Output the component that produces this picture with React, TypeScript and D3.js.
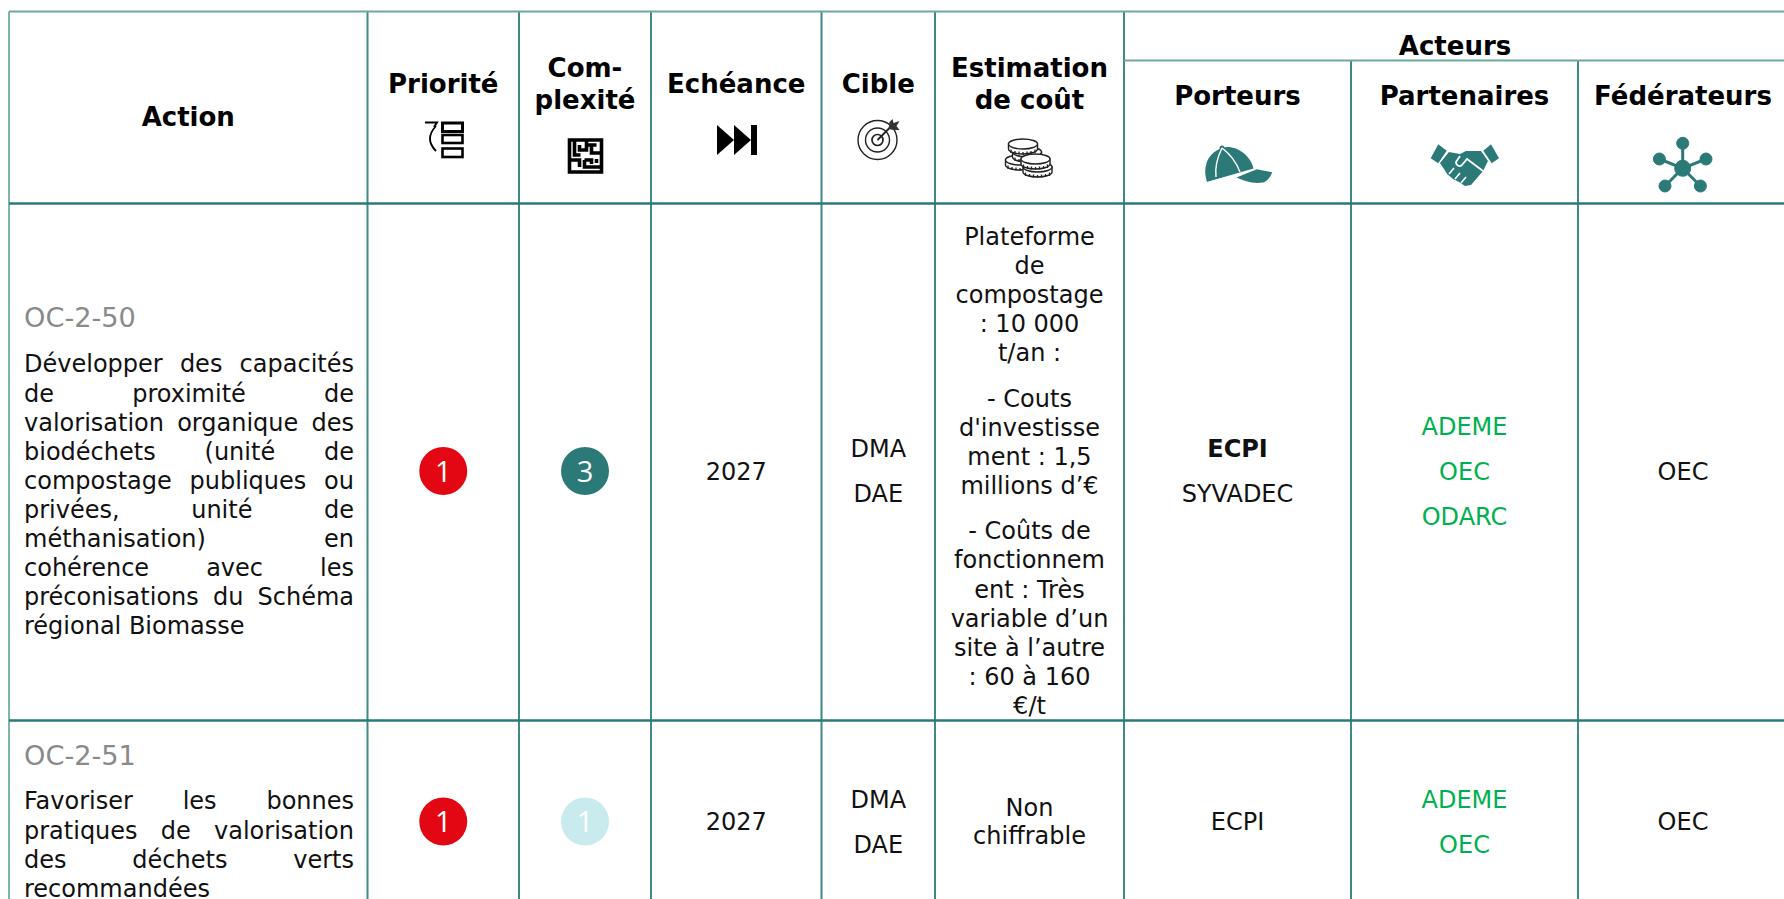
import React from 'react';
import * as d3 from 'd3';

// table content
const columnKeys = ['action', 'priorite', 'complexite', 'echeance', 'cible', 'cout', 'porteurs', 'partenaires', 'federateurs'];
const headerLabels = [['Action'], ['Priorité'], ['Com-', 'plexité'], ['Echéance'], ['Cible'], ['Estimation', 'de coût'], ['Porteurs'], ['Partenaires'], ['Fédérateurs']];
const actionCodes = ['OC-2-50', 'OC-2-51'];
const actionLines = [
  ['Développer des capacités', 'de proximité de', 'valorisation organique des', 'biodéchets (unité de', 'compostage publiques ou', 'privées, unité de', 'méthanisation) en', 'cohérence avec les', 'préconisations du Schéma', 'régional Biomasse'],
  ['Favoriser les bonnes', 'pratiques de valorisation', 'des déchets verts', 'recommandées'],
];
const priorities = [1, 1];
const complexities = [3, 1];
const deadlines = ['2027', '2027'];
const targets = [['DMA', 'DAE'], ['DMA', 'DAE']];
const costs = [
  [['Plateforme', 'de', 'compostage', ': 10 000', 't/an :'], ['- Couts', "d'investisse", 'ment : 1,5', 'millions d’€'], ['- Coûts de', 'fonctionnem', 'ent : Très', 'variable d’un', 'site à l’autre', ': 60 à 160', '€/t']],
  [['Non', 'chiffrable']],
];
const carriers = [[{ t: 'ECPI', b: true }, { t: 'SYVADEC', b: false }], [{ t: 'ECPI', b: false }]];
const partners = [['ADEME', 'OEC', 'ODARC'], ['ADEME', 'OEC']];
const federators = [['OEC'], ['OEC']];

// layout
const W = 1784;
const H = 899;
const edges = [9, 367.5, 519, 651, 821.5, 935, 1124, 1351, 1578, 1788];
const top = 11.5;
const subTop = 60.5;
const headBottom = 203.5;
const row1Bottom = 720.5;
const rowMid = [471, 821.5];
const FONT = '"DejaVu Sans", Verdana, sans-serif';
const BODY = 24;
const ACTION = 24;
const HEAD = 26;
const PITCH = 29.1;
const LINE = '#3f8a85';
const DARK = '#2c7a77';

const xCenter = d3.scaleOrdinal<string, number>(columnKeys, columnKeys.map((_, i) => (edges[i] + edges[i + 1]) / 2));
const levelColor = d3.scaleOrdinal<string, string>(['p1', 'c3', 'c1'], ['#e30613', '#2c7a77', '#c9ebee']);

let ctx: CanvasRenderingContext2D | null = null;
function measure(s: string, size: number) {
  if (!ctx) ctx = document.createElement('canvas').getContext('2d');
  ctx!.font = `${size}px "DejaVu Sans"`;
  return ctx!.measureText(s).width;
}

function Centered({ x, y, lines, pitch = PITCH, ...rest }: any) {
  const y0 = y - ((lines.length - 1) * pitch) / 2;
  return (
    <>
      {lines.map((l: string, i: number) => (
        <text key={i} x={x} y={y0 + i * pitch + 8.6} textAnchor="middle" fontSize={BODY} fill="#111" {...rest}>{l}</text>
      ))}
    </>
  );
}

function Justified({ x, y, width, lines }: any) {
  return (
    <>
      {lines.map((l: string, i: number) => {
        const gaps = l.split(' ').length - 1;
        const last = i === lines.length - 1;
        const ws = !last && gaps > 0 ? (width - measure(l, ACTION)) / gaps : 0;
        return <text key={i} x={x} y={y + i * PITCH + 8.4} fontSize={ACTION} fill="#111" wordSpacing={ws}>{l}</text>;
      })}
    </>
  );
}

function Badge({ x, y, color, value }: any) {
  return (
    <g>
      <circle cx={x} cy={y} r={24} fill={color} />
      <text x={x} y={y + 10.5} textAnchor="middle" fontSize={29} fontFamily='"Open Sans"' fontWeight={500} fill="#fff">{value}</text>
    </g>
  );
}

function PriorityIcon({ x, y }: any) {
  const arrow = d3.path();
  arrow.moveTo(-8, 12);
  arrow.quadraticCurveTo(-20, 0, -8, -13);
  return (
    <g transform={`translate(${x},${y})`} fill="none" stroke="#000" strokeWidth={2.6}>
      <rect x={-1.5} y={-16} width={20} height={8.5} strokeWidth={3} />
      <rect x={-1.5} y={-4} width={20} height={8} />
      <rect x={-1.5} y={9.5} width={20} height={8.5} />
      <path d={arrow.toString()} strokeWidth={1.8} />
      <path d="M-19,-16.5 H-7 L-10,-12" strokeWidth={2} />
    </g>
  );
}

function MazeIcon({ x, y }: any) {
  const d = 'M-16,-16 H16 V16 H-16 Z M-11,-16 V-1 H-5 M-6,-11 V-6 H1 V-16 M6,-11 H11 M1,-11 H6 V-3 H16 M-16,4 H-6 V11 M-1,4 H6 V8 M-1,4 V11 H16 M11,3 V7';
  return <path transform={`translate(${x},${y})`} d={d} fill="none" stroke="#000" strokeWidth={3.6} />;
}

function SkipIcon({ x, y }: any) {
  return (
    <g transform={`translate(${x},${y})`} fill="#000">
      <path d="M-20,-15 L-3,0 L-20,15 Z" />
      <path d="M-3,-15 L14,0 L-3,15 Z" />
      <rect x={14} y={-15} width={6} height={30} />
    </g>
  );
}

function TargetIcon({ x, y }: any) {
  return (
    <g transform={`translate(${x},${y})`} fill="none" stroke="#222" strokeWidth={1.4}>
      <circle r={19.5} />
      <circle r={12} />
      <circle r={5.5} strokeWidth={1.7} />
      <path d="M0,0 L13,-13" strokeWidth={1.8} />
      <path d="M11,-11 L12,-18 L15,-21 L16,-17 L22,-19 L19,-14 L22,-10 L16,-10 Z" fill="#333" stroke="none" />
    </g>
  );
}

function Coin({ x, y }: any) {
  return (
    <g transform={`translate(${x},${y})`} fill="#fff" stroke="#222" strokeWidth={1.4}>
      <path d="M-14.5,0 V5 A14.5,5 0 0 0 14.5,5 V0 Z" />
      <path d="M-12,5.5 V9 M-8,7 V10 M-4,7.5 V10.5 M0,8 V11 M4,7.5 V10.5 M8,7 V10 M12,5.5 V9" strokeWidth={1.3} />
      <ellipse rx={14.5} ry={5} />
    </g>
  );
}

function CoinsIcon({ x, y }: any) {
  // drawn back to front
  const stack = [[-10, 2], [-3, -6], [-7, -14], [7.5, 9], [5.5, 1]];
  return (
    <g transform={`translate(${x},${y})`}>
      {stack.map(([a, b], i) => <Coin key={i} x={a} y={b} />)}
    </g>
  );
}

function CapIcon({ x, y }: any) {
  return (
    <g transform={`translate(${x},${y})`} fill={DARK}>
      <path d="M-31,16 C-35,4 -33,-12 -16,-18 C-4,-22 12,-12 15.5,2.5 Z" />
      <path d="M-1.5,11.5 L18.7,3.3 L34.3,6.3 C32,12 28,16 25,16.5 C15,18 6,15 -1.5,11.5 Z" />
      <circle cx={-16} cy={-18} r={2.5} />
      <path d="M-16,-18 C-21,-8 -23,2 -22,11 M-16,-18 C-8,-12 -1,-2 2,6" fill="none" stroke="#fff" strokeWidth={1.4} />
      <path d="M-31,16.5 L17,3.5" fill="none" stroke="#fff" strokeWidth={0.8} />
    </g>
  );
}

function HandshakeIcon({ x, y }: any) {
  return (
    <g transform={`translate(${x},${y})`} fill={DARK}>
      <path d="M-25.7,-20.7 L-17.3,-14.3 L-25.7,-1.7 L-33.3,-6.7 Z" />
      <path d="M27,-20.7 L35,-6.7 L27.7,-1.7 L19.3,-14.3 Z" />
      <path d="M-15,-13 L-4,-11 L2,-14 L17,-14 L24,-4 L19,6 L7,20 L1,21 L-5,17 L-11,14 L-17,9 L-20,4 L-24,-2 Z" />
      <path d="M-4,-9 L-8,-3 C-8,1 -4,2 -2,0 L3,-6 L19,6" fill="none" stroke="#fff" strokeWidth={1.8} />
      <path d="M-15,9 L-10,3 M-9,14 L-4,8 M-3,18 L2,12" fill="none" stroke="#fff" strokeWidth={1.6} />
    </g>
  );
}

function HubIcon({ x, y }: any) {
  const nodes = [[0, -25], [-23.3, -9.3], [23.3, -9.3], [-17.7, 17.7], [17.7, 17.7]];
  return (
    <g transform={`translate(${x},${y})`} fill={DARK} stroke={DARK}>
      {nodes.map(([cx, cy], i) => (
        <g key={i}>
          <line x2={cx} y2={cy} strokeWidth={3} />
          <circle cx={cx} cy={cy} r={6} />
        </g>
      ))}
      <circle r={8} />
    </g>
  );
}

export default function App() {
  const costLines = (paras: string[][], yStart: number) => {
    let y = yStart;
    const out: React.ReactNode[] = [];
    paras.forEach((p, pi) => {
      p.forEach((l, li) => {
        out.push(<text key={`${pi}-${li}`} x={xCenter('cout')} y={y + 8.6} textAnchor="middle" fontSize={BODY} fill="#111">{l}</text>);
        y += PITCH;
      });
      y += 16.4;
    });
    return out;
  };

  const heads = headerLabels.map((lines, i) => {
    const key = columnKeys[i];
    const isActor = i >= 6;
    const y = key === 'action' ? 117 : isActor ? 96.5 : 84;
    return <Centered key={key} x={xCenter(key)} y={y} lines={lines} pitch={32} fontWeight="bold" fontSize={HEAD} fill="#000" />;
  });

  return (
    <svg width={W} height={H} style={{ position: 'absolute', left: 0, top: 0 }} fontFamily={FONT}>
      <rect width={W} height={H} fill="#fff" />

      {/* grid */}
      <g stroke={LINE} strokeWidth={2}>
        {edges.slice(0, -1).map((e, i) => {
          const sub = i === 7 || i === 8;
          return <line key={i} x1={e} x2={e} y1={sub ? subTop : top} y2={H} stroke={i === 0 ? '#7fb5a8' : LINE} />;
        })}
        <line x1={edges[0]} x2={W} y1={top} y2={top} stroke="#6fa89f" />
        <line x1={edges[6]} x2={W} y1={subTop} y2={subTop} stroke="#6fa89f" />
        <line x1={edges[0]} x2={W} y1={headBottom} y2={headBottom} stroke={DARK} strokeWidth={2.6} />
        <line x1={edges[0]} x2={W} y1={row1Bottom} y2={row1Bottom} stroke={DARK} strokeWidth={2.6} />
      </g>

      {/* header */}
      {heads}
      <Centered x={1455} y={46.5} lines={['Acteurs']} fontWeight="bold" fontSize={HEAD} fill="#000" />
      <PriorityIcon x={444} y={139} />
      <MazeIcon x={585.5} y={156} />
      <SkipIcon x={737} y={140} />
      <TargetIcon x={877.5} y={140} />
      <CoinsIcon x={1030} y={158} />
      <CapIcon x={1238} y={166} />
      <HandshakeIcon x={1464} y={165} />
      <HubIcon x={1682.7} y={168.3} />

      {/* rows */}
      {actionCodes.map((code, i) => {
        const mid = rowMid[i];
        const codeY = i === 0 ? 317.5 : 755.5;
        const linesY = i === 0 ? 364 : 801;
        return (
          <g key={code}>
            <text x={24} y={codeY + 9.5} fontSize={27.2} fill="#8a8a8a">{code}</text>
            <Justified x={24} y={linesY} width={330} lines={actionLines[i]} />
            <Badge x={xCenter('priorite')} y={mid} color={levelColor('p' + priorities[i])} value={priorities[i]} />
            <Badge x={xCenter('complexite')} y={mid} color={levelColor('c' + complexities[i])} value={complexities[i]} />
            <Centered x={xCenter('echeance')} y={mid} lines={[deadlines[i]]} />
            <Centered x={xCenter('cible')} y={mid} lines={targets[i]} pitch={45} />
            {i === 0 ? costLines(costs[i], 236) : <Centered x={xCenter('cout')} y={mid} lines={costs[i][0]} pitch={28.5} />}
            {carriers[i].map((c, j) => (
              <text key={c.t} x={xCenter('porteurs')} y={mid + 8.6 + (j - (carriers[i].length - 1) / 2) * 45} textAnchor="middle" fontSize={BODY} fontWeight={c.b ? 'bold' : 'normal'} fill="#111">{c.t}</text>
            ))}
            <Centered x={xCenter('partenaires')} y={mid} lines={partners[i]} pitch={45} fill="#00b050" />
            <Centered x={xCenter('federateurs')} y={mid} lines={federators[i]} />
          </g>
        );
      })}
    </svg>
  );
}
